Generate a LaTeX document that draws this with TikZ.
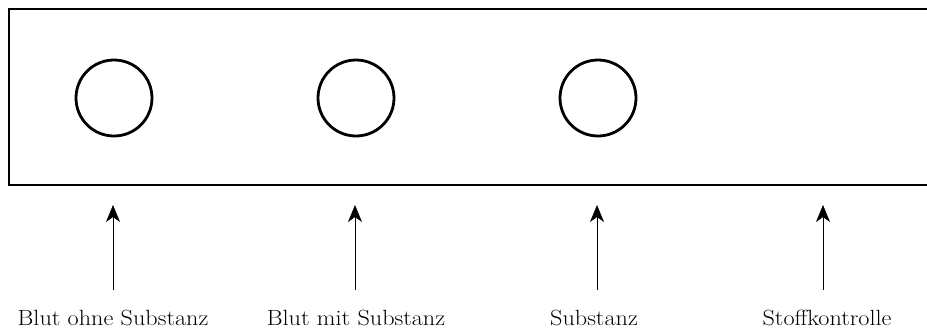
\documentclass[tikz,border=0pt]{standalone}
\usetikzlibrary{arrows.meta}
\newcommand{\wlabel}[1]{\scalebox{1.1}[1]{#1}}
\begin{document}
\begin{tikzpicture}[x=1pt,y=-1pt,
  well/.style={draw, circle, line width=2.8pt, minimum size=76pt, inner sep=0pt},
  lbl/.style={anchor=base, font=\fontsize{22}{26}\selectfont, inner sep=0pt},
  feed/.style={line width=0.6pt, -{Stealth[length=17pt,width=14pt,inset=5pt]}}]
\useasboundingbox (0,0) rectangle (927,330);
\draw[line width=2.2pt] (940,9) -- (9,9) -- (9,185) -- (940,185);
\node[well] (w1) at (114,98) {};
\node[well] (w2) at (356,98) {};
\node[well] (w3) at (598,98) {};
\coordinate (t1) at (113,205);
\coordinate (t2) at (355,205);
\coordinate (t3) at (597,205);
\coordinate (t4) at (823,205);
\coordinate (b1) at (113,290);
\coordinate (b2) at (355,290);
\coordinate (b3) at (597,290);
\coordinate (b4) at (823,290);
\draw[feed] (b1) -- (t1);
\draw[feed] (b2) -- (t2);
\draw[feed] (b3) -- (t3);
\draw[feed] (b4) -- (t4);
\node[lbl] (l1) at (113,325) {\wlabel{Blut ohne Substanz}};
\node[lbl] (l2) at (356,325) {\wlabel{Blut mit Substanz}};
\node[lbl] (l3) at (594,325) {\wlabel{Substanz}};
\node[lbl] (l4) at (827,325) {\wlabel{Stoffkontrolle}};
\end{tikzpicture}
\end{document}
